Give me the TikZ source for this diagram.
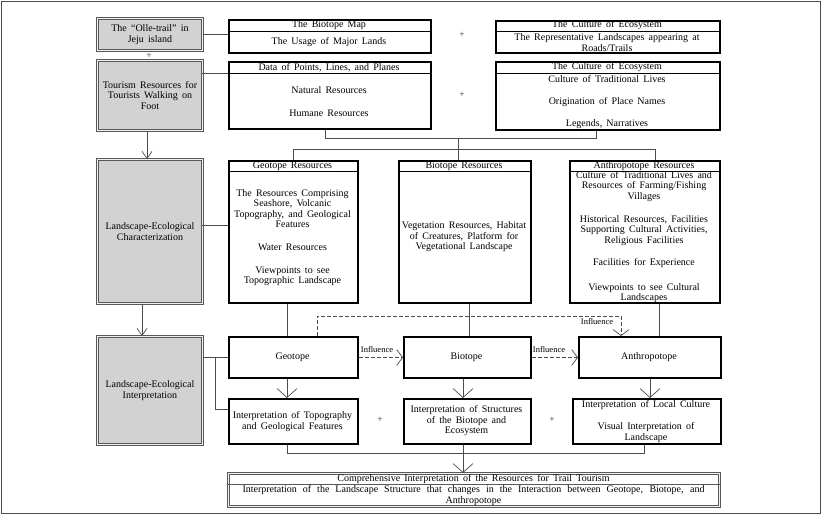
\documentclass[tikz,border=0pt]{standalone}
\usepackage{fontspec}
\setmainfont{Liberation Serif}
\usetikzlibrary{arrows.meta,calc}
\newcommand\myfs{\fontsize{10}{10.5}\selectfont\spaceskip=0.42em plus 0.1em minus 0.05em\relax}
\newcommand\myfsi{\fontsize{8.5}{9}\selectfont}
\begin{document}
\begin{tikzpicture}[x=1pt,y=-1pt,
 every node/.style={font=\myfs, inner sep=0pt, align=center},
 bbox/.style={draw=black, line width=2pt, anchor=north west, rectangle},
 gbox/.style={draw=gray!70!black, double=gray!12, double distance=1.4pt, line width=0.9pt, fill=gray!35, anchor=north west, rectangle},
 fbox/.style={draw=gray!70!black, double=gray!12, double distance=1.2pt, line width=0.8pt, fill=white, anchor=north west, rectangle},
 hline/.style={line width=0.6pt},
 conn/.style={draw=black!70, line width=0.8pt},
 arr/.style={conn, -{Straight Barb[length=9pt,width=20pt,line width=0.7pt]}},
 arrs/.style={conn, -{Straight Barb[length=7pt,width=10pt,line width=0.7pt]}},
 darr/.style={conn, dash pattern=on 4pt off 2pt, -{Straight Barb[length=6pt,width=16pt,line width=0.7pt]}},
 plus/.style={font=\fontsize{9.5}{10}\selectfont, text=black!80},
 lab/.style={font=\myfsi}
]
\useasboundingbox (0,0) rectangle (827,516);
\draw[draw=gray!60!black, line width=0.8pt] (1.5,1.5) rectangle (820.5,513.5);

% left column
\node[gbox, minimum width=105pt, minimum height=32pt] (A) at (97,18) {The “Olle-trail” in\\Jeju island};
\node[gbox, minimum width=105pt, minimum height=70pt] (B) at (97,60) {Tourism Resources for\\Tourists Walking on\\Foot};
\node[gbox, minimum width=105pt, minimum height=144pt] (C) at (97,159) {Landscape-Ecological\\Characterization};
\node[gbox, minimum width=105pt, minimum height=108pt] (D) at (97,336) {Landscape-Ecological\\Interpretation};
\node[plus] (p1) at (149,56) {+};

% top row
\node[bbox, minimum width=202pt, minimum height=33pt] (bmap) at (228,19) {};
\draw[hline] (bmap.west |- 0,31) -- (bmap.east |- 0,31);
\node (bmapH) at (329,25.5) {The Biotope Map};
\node (bmapB) at (329,42) {The Usage of Major Lands};

\node[bbox, minimum width=224pt, minimum height=32pt] (cult1) at (495,20) {};
\draw[hline] (cult1.west |- 0,31) -- (cult1.east |- 0,31);
\node (cult1H) at (607,25.5) {The Culture of Ecosystem};
\node (cult1B) at (607,42.5) {The Representative Landscapes appearing at\\Roads/Trails};

\node[bbox, minimum width=202pt, minimum height=67pt] (data) at (228,61) {};
\draw[hline] (data.west |- 0,73) -- (data.east |- 0,73);
\node (dataH) at (329,67.5) {Data of Points, Lines, and Planes};
\node (dataB1) at (329,90) {Natural Resources};
\node (dataB2) at (329,113) {Humane Resources};

\node[bbox, minimum width=224pt, minimum height=68pt] (cult2) at (495,61) {};
\draw[hline] (cult2.west |- 0,73) -- (cult2.east |- 0,73);
\node (cult2H) at (607,67.5) {The Culture of Ecosystem};
\node (cult2B1) at (607,79) {Culture of Traditional Lives};
\node (cult2B2) at (607,102) {Origination of Place Names};
\node (cult2B3) at (607,124) {Legends, Narratives};

\node[plus] (p2) at (462,35) {+};
\node[plus] (p3) at (462,95) {+};

% resources row
\node[bbox, minimum width=129pt, minimum height=142pt] (geores) at (228,160) {};
\draw[hline] (geores.west |- 0,171) -- (geores.east |- 0,171);
\node (geoH) at (292.5,166) {Geotope Resources};
\node (geoB1) at (292.5,208.5) {The Resources Comprising\\Seashore, Volcanic\\Topography, and Geological\\Features};
\node (geoB2) at (292.5,247) {Water Resources};
\node (geoB3) at (292.5,276.5) {Viewpoints to see\\Topographic Landscape};

\node[bbox, minimum width=132pt, minimum height=142pt] (biores) at (398,160) {};
\draw[hline] (biores.west |- 0,171) -- (biores.east |- 0,171);
\node (bioH) at (464,166) {Biotope Resources};
\node (bioB1) at (464,237) {Vegetation Resources, Habitat\\of Creatures, Platform for\\Vegetational Landscape};

\node[bbox, minimum width=150pt, minimum height=142pt] (anthres) at (569,160) {};
\draw[hline] (anthres.west |- 0,171) -- (anthres.east |- 0,171);
\node (antH) at (644,166) {Anthropotope Resources};
\node (antB1) at (644,186.5) {Culture of Traditional Lives and\\Resources of Farming/Fishing\\Villages};
\node (antB2) at (644,230.5) {Historical Resources, Facilities\\Supporting Cultural Activities,\\Religious Facilities};
\node (antB3) at (644,263) {Facilities for Experience};
\node (antB4) at (644,293) {Viewpoints to see Cultural\\Landscapes};

% tope row
\node[bbox, minimum width=129pt, minimum height=41pt] (geo) at (228,336) {};
\node (geoT) at (292.5,357) {Geotope};
\node[bbox, minimum width=127pt, minimum height=41pt] (bio) at (403,336) {};
\node (bioT) at (466.5,357) {Biotope};
\node[bbox, minimum width=142pt, minimum height=41pt] (anth) at (578,336) {};
\node (anthT) at (649,357) {Anthropotope};

% interpretation row
\node[bbox, minimum width=129pt, minimum height=45pt] (itopo) at (228,398) {};
\node (itopoT) at (292.5,421.5) {Interpretation of Topography\\and Geological Features};
\node[bbox, minimum width=127pt, minimum height=45pt] (istruct) at (403,398) {};
\node (istructT) at (466.5,421) {Interpretation of Structures\\of the Biotope and\\Ecosystem};
\node[bbox, minimum width=148pt, minimum height=45pt] (ilocal) at (572,398) {};
\node (ilocalT1) at (646,405) {Interpretation of Local Culture};
\node (ilocalT2) at (646,432.5) {Visual Interpretation of\\Landscape};
\node[plus] (p4) at (380,420) {+};
\node[plus] (p5) at (552,420) {+};

% final
\node[fbox, minimum width=491pt, minimum height=33pt] (final) at (228,473) {};
\draw[draw=gray!70!black, line width=0.8pt] (final.west |- 0,484.5) -- (final.east |- 0,484.5);
\node (finalH) at (473.5,479) {Comprehensive Interpretation of the Resources for Trail Tourism};
\node (finalB) at (473.5,495.5) {\makebox[462pt][s]{Interpretation of the Landscape Structure that changes in the Interaction between Geotope, Biotope, and}\\Anthropotope};

% coordinates
\coordinate (b1) at (202,73);
\coordinate (c1) at (202,225);
\coordinate (m1) at (325,138);
\coordinate (m2) at (596,138);
\coordinate (j1) at (458,138);
\coordinate (j2) at (458,149);
\coordinate (j3) at (655,149);
\coordinate (xg) at (287,0);
\coordinate (xb) at (469,0);
\coordinate (xa) at (659,0);
\coordinate (xbi) at (463,0);
\coordinate (xai) at (650,0);
\coordinate (xl1) at (147,0);
\coordinate (xl2) at (142,0);
\coordinate (d2) at (215,357);
\coordinate (d3) at (215,409);
\coordinate (e1) at (317,316);
\coordinate (e2) at (621,316);
\coordinate (k1) at (287,453);
\coordinate (k2) at (463,453);
\coordinate (k3) at (644,453);

% connectors
\draw[conn] (A.east) -- (A.east -| bmap.west);
\draw[conn] (b1) -- (b1 -| data.west);
\draw[arrs] (B.south -| xl1) -- (C.north -| xl1);
\draw[arrs] (C.south -| xl2) -- (D.north -| xl2);
\draw[conn] (c1) -- (c1 -| geores.west);
\draw[conn] (m1 |- data.south) -- (m1) -- (m2) -- (m2 |- cult2.south);
\draw[conn] (j1) -- (j1 |- biores.north);
\draw[conn] (geores.north) -- (geores.north |- j2) -- (j3) -- (j3 |- anthres.north);
\draw[conn] (geores.south -| xg) -- (geo.north -| xg);
\draw[conn] (biores.south -| xb) -- (bio.north -| xb);
\draw[conn] (anthres.south -| xa) -- (anth.north -| xa);
\draw[arr] (geo.south -| xg) -- (itopo.north -| xg);
\draw[arr] (bio.south -| xbi) -- (istruct.north -| xbi);
\draw[arr] (anth.south -| xai) -- (ilocal.north -| xai);
\draw[conn] (D.east |- geo.west) -- (geo.west);
\draw[conn] (d2) -- (d3) -- (d3 -| itopo.west);
\draw[darr] (e1 |- geo.north) -- (e1) -- (e2) -- (e2 |- anth.north);
\draw[darr] (geo.east) -- (bio.west);
\draw[darr] (bio.east) -- (anth.west);
\node[lab] (inf1) at (377,350) {Influence};
\node[lab] (inf2) at (549,350) {Influence};
\node[lab] (inf3) at (597,322) {Influence};
\draw[conn] (k1 |- itopo.south) -- (k1) -- (k3) -- (k3 |- ilocal.south);
\draw[conn] (k2 |- istruct.south) -- (k2);
\draw[arr] (k2) -- (k2 |- final.north);
\end{tikzpicture}
\end{document}
